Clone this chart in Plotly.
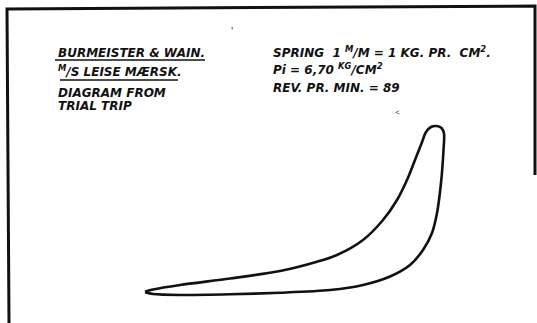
import plotly.graph_objects as go

# Indicator card: piston stroke position (x) and pen height above card bottom (y)
loop_stroke = [145, 153, 180, 230, 280, 317, 337, 363, 383, 397, 407, 415, 421.5,
               426, 431, 436.5, 441.5, 444, 443.5, 441, 437, 432, 423, 410, 390,
               363, 330, 280, 230, 180, 153, 145]
loop_height = [31.3, 33.5, 38.0, 44.5, 52.0, 61.3, 68.0, 83.0, 103.0, 123.0, 143.0,
               163.0, 179.5, 191.0, 196.0, 197.0, 195.0, 189.5, 173.0, 140.0, 110.0,
               90.0, 73.0, 58.0, 46.5, 38.0, 33.0, 30.3, 28.7, 28.0, 29.0, 30.7]

left_notes = ["BURMEISTER &amp; WAIN.", "<sup>M</sup>/S LEISE MÆRSK.", "DIAGRAM FROM", "TRIAL TRIP"]
left_notes_y = [270, 252, 230.5, 217]
right_notes = ["SPRING&nbsp; 1 <sup>M</sup>/M = 1 KG. PR.&nbsp; CM<sup>2</sup>.",
               "Pi = 6,70 <sup>KG</sup>/CM<sup>2</sup>",
               "REV. PR. MIN. = 89"]
right_notes_y = [271, 254, 235.5]

W, H = 537, 323
ink = "#111111"
hand = dict(family="DejaVu Sans", size=12, color=ink, weight="bold", style="italic")

fig = go.Figure()
fig.add_trace(go.Scatter(
    x=loop_stroke, y=loop_height, mode="lines",
    line=dict(color=ink, width=2.6, shape="spline", smoothing=0.8),
    hoverinfo="skip", showlegend=False,
))

for txt, yy in zip(left_notes, left_notes_y):
    fig.add_annotation(x=56, y=yy, text=txt, showarrow=False, xanchor="left",
                       yanchor="middle", font=hand)
for txt, yy in zip(right_notes, right_notes_y):
    fig.add_annotation(x=271, y=yy, text=txt, showarrow=False, xanchor="left",
                       yanchor="middle", font=hand)

# small pen marks on the card
fig.add_annotation(x=232, y=292, text="'", showarrow=False, font=dict(size=10, color=ink))
fig.add_annotation(x=397, y=212, text="&lt;", showarrow=False, font=dict(size=8, color=ink))

# underlines of the heading
fig.add_shape(type="line", x0=55, x1=205, y0=263, y1=263, line=dict(color=ink, width=1.5))
fig.add_shape(type="line", x0=60, x1=178, y0=243, y1=243, line=dict(color=ink, width=1.5))

# card frame
fig.add_shape(type="path", path="M 9,0 L 7,314 L 535,317 L 535,148",
              line=dict(color=ink, width=3))

fig.update_xaxes(range=[0, W], visible=False, fixedrange=True)
fig.update_yaxes(range=[0, H], visible=False, fixedrange=True)
fig.update_layout(width=W, height=H, margin=dict(l=0, r=0, t=0, b=0),
                  paper_bgcolor="white", plot_bgcolor="white")

fig.write_html("out.html")
